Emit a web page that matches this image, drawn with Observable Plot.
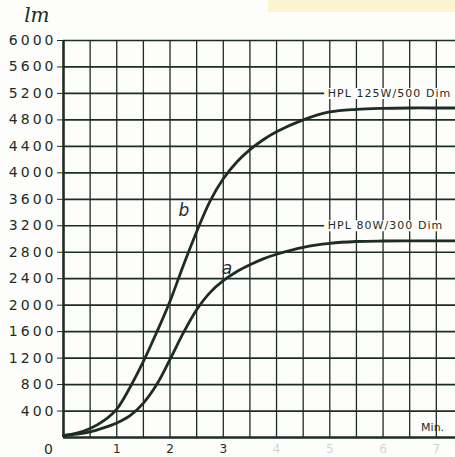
<!DOCTYPE html>
<html>
<head>
<meta charset="utf-8">
<script src="https://cdn.jsdelivr.net/npm/d3@7"></script>
<script src="https://cdn.jsdelivr.net/npm/@observablehq/plot@0.6"></script>
<style>
  html, body { margin: 0; padding: 0; background: #fdfdfb; }
  #wrap { position: relative; width: 455px; height: 457px; overflow: hidden; }
  #patch { position: absolute; left: 268px; top: 0; width: 187px; height: 12px; background: #fbf5cf; }
  g[aria-label="y-axis tick label"] text { letter-spacing: 3px; }
</style>
</head>
<body>
<div id="wrap"><div id="patch"></div></div>
<script>
// --- data ---
const minutes = [0, 0.25, 0.5, 0.75, 1.0, 1.25, 1.5, 1.75, 2.0, 2.25, 2.5, 2.75, 3.0, 3.25, 3.5, 3.75, 4.0, 4.5, 5.0, 5.5, 6.0, 6.5, 7.0, 7.4];
const lumenA = [30, 50, 85, 145, 220, 330, 520, 800, 1180, 1580, 1930, 2190, 2370, 2505, 2610, 2700, 2770, 2875, 2935, 2962, 2970, 2972, 2972, 2972]; // HPL 80W/300
const lumenB = [30, 65, 135, 250, 430, 760, 1150, 1590, 2060, 2600, 3110, 3570, 3910, 4160, 4350, 4500, 4620, 4800, 4920, 4960, 4975, 4980, 4980, 4980]; // HPL 125W/500
const yTicks = [400, 800, 1200, 1600, 2000, 2400, 2800, 3200, 3600, 4000, 4400, 4800, 5200, 5600, 6000];
const xGrid = [0.5, 1, 1.5, 2, 2.5, 3, 3.5, 4, 4.5, 5, 5.5, 6, 6.5, 7];
const xTickLabels = [{t: 1, s: "1"}, {t: 2, s: "2"}, {t: 3, s: "3"}, {t: 4, s: "4"}, {t: 5, s: "5"}, {t: 6, s: "6"}, {t: 7, s: "7"}];
const seriesNames = [{name: "HPL 125W/500 Dim", t: 4.96, v: 5200}, {name: "HPL 80W/300 Dim", t: 4.96, v: 3200}];
const curveLetters = [{s: "b", t: 2.26, v: 3430}, {s: "a", t: 3.07, v: 2560}];

const ink = "#1d2c24";
const bg = "#fdfdfb";
const rowsA = minutes.map((t, i) => ({t, v: lumenA[i]}));
const rowsB = minutes.map((t, i) => ({t, v: lumenB[i]}));

const chart = Plot.plot({
  width: 455,
  height: 457,
  marginLeft: 63,
  marginRight: 0,
  marginTop: 40,
  marginBottom: 20,
  style: {fontFamily: "DejaVu Sans", background: "transparent", color: ink, overflow: "visible"},
  x: {domain: [0, 7.36], axis: null},
  y: {domain: [0, 6000], axis: null},
  marks: [
    Plot.ruleX(xGrid, {y1: 0, y2: 6000, stroke: ink, strokeWidth: 1.3}),
    Plot.ruleY(yTicks, {x1: 0, x2: 7.36, stroke: ink, strokeWidth: 1.7}),
    Plot.ruleY(seriesNames, {x1: "t", x2: 7.6, y: "v", dx: -3, stroke: bg, strokeWidth: 11}),
    Plot.ruleY([0], {x1: 0, x2: 7.36, stroke: ink, strokeWidth: 2.6}),
    Plot.ruleX([0], {y1: 0, y2: 6000, stroke: ink, strokeWidth: 2.6}),
    Plot.axisY({ticks: yTicks, tickSize: 6, tickPadding: 1, fontSize: 14, label: null, stroke: ink, fill: ink, tickFormat: d => String(d)}),
    Plot.text(["0"], {x: 0, y: 0, dx: -15, dy: 12, text: d => d, fontSize: 14, fill: ink}),
    Plot.text(xTickLabels, {x: "t", y: 0, dy: 12, text: "s", fontSize: 12, fill: ink, fillOpacity: d => d.t <= 3 ? 1 : 0.22}),
    Plot.text(["Min."], {x: 6.93, y: 150, text: d => d, fontSize: 11, fill: ink, style: "letter-spacing:1.5px"}),
    Plot.line(rowsA, {x: "t", y: "v", curve: "catmull-rom", stroke: ink, strokeWidth: 2.8}),
    Plot.line(rowsB, {x: "t", y: "v", curve: "catmull-rom", stroke: ink, strokeWidth: 2.8}),
    Plot.text(seriesNames, {x: "t", y: "v", text: "name", textAnchor: "start", fontSize: 11, fill: ink}),
    Plot.text(curveLetters, {x: "t", y: "v", text: "s", fontSize: 17, fontStyle: "italic", fill: ink}),
    Plot.text(["lm"], {x: -0.5, y: 6380, text: d => d, fontSize: 20, fontStyle: "italic", fontFamily: "DejaVu Serif", fill: ink})
  ]
});
d3.select(chart).selectAll('g[aria-label="text"] text').filter(function() { return /HPL/.test(this.textContent); }).style("letter-spacing", "1.05px");
document.getElementById("wrap").appendChild(chart);
chart.style.position = "absolute";
chart.style.left = "0";
chart.style.top = "0";
</script>
</body>
</html>
